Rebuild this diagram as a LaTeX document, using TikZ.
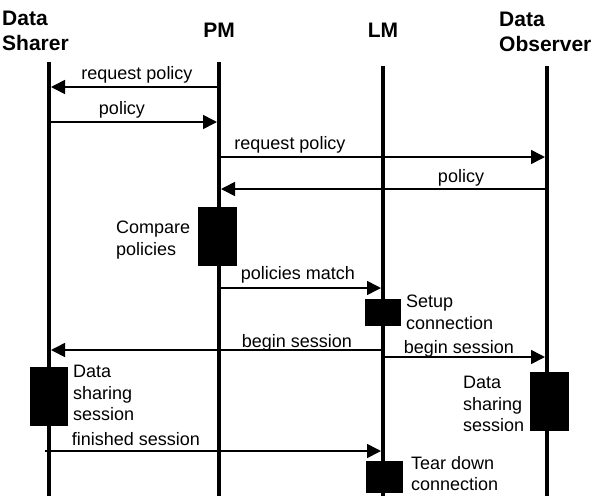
\documentclass[tikz,border=0pt]{standalone}
\usepackage{fontspec}
\setmainfont{Liberation Sans}
\usetikzlibrary{arrows.meta}
\begin{document}
\begin{tikzpicture}[x=1pt,y=-1pt,
  head/.style={font=\fontsize{21}{24.5}\selectfont\bfseries, align=left, inner sep=0pt},
  lbl/.style={font=\fontsize{18}{21.5}\selectfont, inner sep=0pt},
  note/.style={font=\fontsize{18}{21.5}\selectfont, align=left, inner sep=0pt, anchor=north west},
  lifeline/.style={line width=4pt},
  msg/.style={line width=1.6pt, -{Triangle[length=14pt,width=14pt]}, shorten >=2pt},
  act/.style={fill=black, draw=none}]
\useasboundingbox (0,0) rectangle (605,496);

% participants
\node[head, anchor=west] (ds) at (2,31) {Data\\Sharer};
\node[head] (pm) at (219,30) {PM};
\node[head] (lm) at (383,30) {LM};
\node[head, anchor=west] (do) at (499,32) {Data\\Observer};

% lifelines
\coordinate (dsT) at (49,62);  \coordinate (dsB) at (49,496);
\coordinate (pmT) at (219,62); \coordinate (pmB) at (219,496);
\coordinate (lmT) at (383,66); \coordinate (lmB) at (383,496);
\coordinate (doT) at (547,66); \coordinate (doB) at (547,496);
\draw[lifeline] (dsT) -- (dsB);
\draw[lifeline] (pmT) -- (pmB);
\draw[lifeline] (lmT) -- (lmB);
\draw[lifeline] (doT) -- (doB);

% activation bars
\fill[act] (198,207) rectangle (237,266);
\fill[act] (365,299) rectangle (401,326);
\fill[act] (30,367) rectangle (68,426);
\fill[act] (530,372) rectangle (569,431);
\fill[act] (366,461) rectangle (403,493);

% message end points
\coordinate (m1a) at (219,87);  \coordinate (m1b) at (49,87);
\coordinate (m2a) at (49,122);  \coordinate (m2b) at (219,122);
\coordinate (m3a) at (219,157); \coordinate (m3b) at (547,157);
\coordinate (m4a) at (547,189); \coordinate (m4b) at (219,189);
\coordinate (m5a) at (219,288); \coordinate (m5b) at (383,288);
\coordinate (m6a) at (383,350); \coordinate (m6b) at (49,350);
\coordinate (m7a) at (383,357); \coordinate (m7b) at (547,357);
\coordinate (m8a) at (45,451);  \coordinate (m8b) at (383,451);

\draw[msg] (m1a) -- (m1b);
\draw[msg] (m2a) -- (m2b);
\draw[msg] (m3a) -- (m3b);
\draw[msg] (m4a) -- (m4b);
\draw[msg] (m5a) -- (m5b);
\draw[msg] (m6a) -- (m6b);
\draw[msg] (m7a) -- (m7b);
\draw[msg] (m8a) -- (m8b);

% message labels
\node[lbl] (l1) at (137,75) {request policy};
\node[lbl] (l2) at (122,110) {policy};
\node[lbl] (l3) at (290,145) {request policy};
\node[lbl] (l4) at (461,178) {policy};
\node[lbl] (l5) at (298,275) {policies match};
\node[lbl] (l6) at (297,343) {begin session};
\node[lbl] (l7) at (459,349) {begin session};
\node[lbl] (l8) at (136,439) {finished session};

% activity notes
\node[note] (n1) at (116,221) {Compare\\policies};
\node[note] (n2) at (406,295) {Setup\\connection};
\node[note] (n3) at (73,365) {Data\\sharing\\session};
\node[note] (n4) at (463,376) {Data\\sharing\\session};
\node[note] (n5) at (411,456) {Tear down\\connection};
\end{tikzpicture}
\end{document}
